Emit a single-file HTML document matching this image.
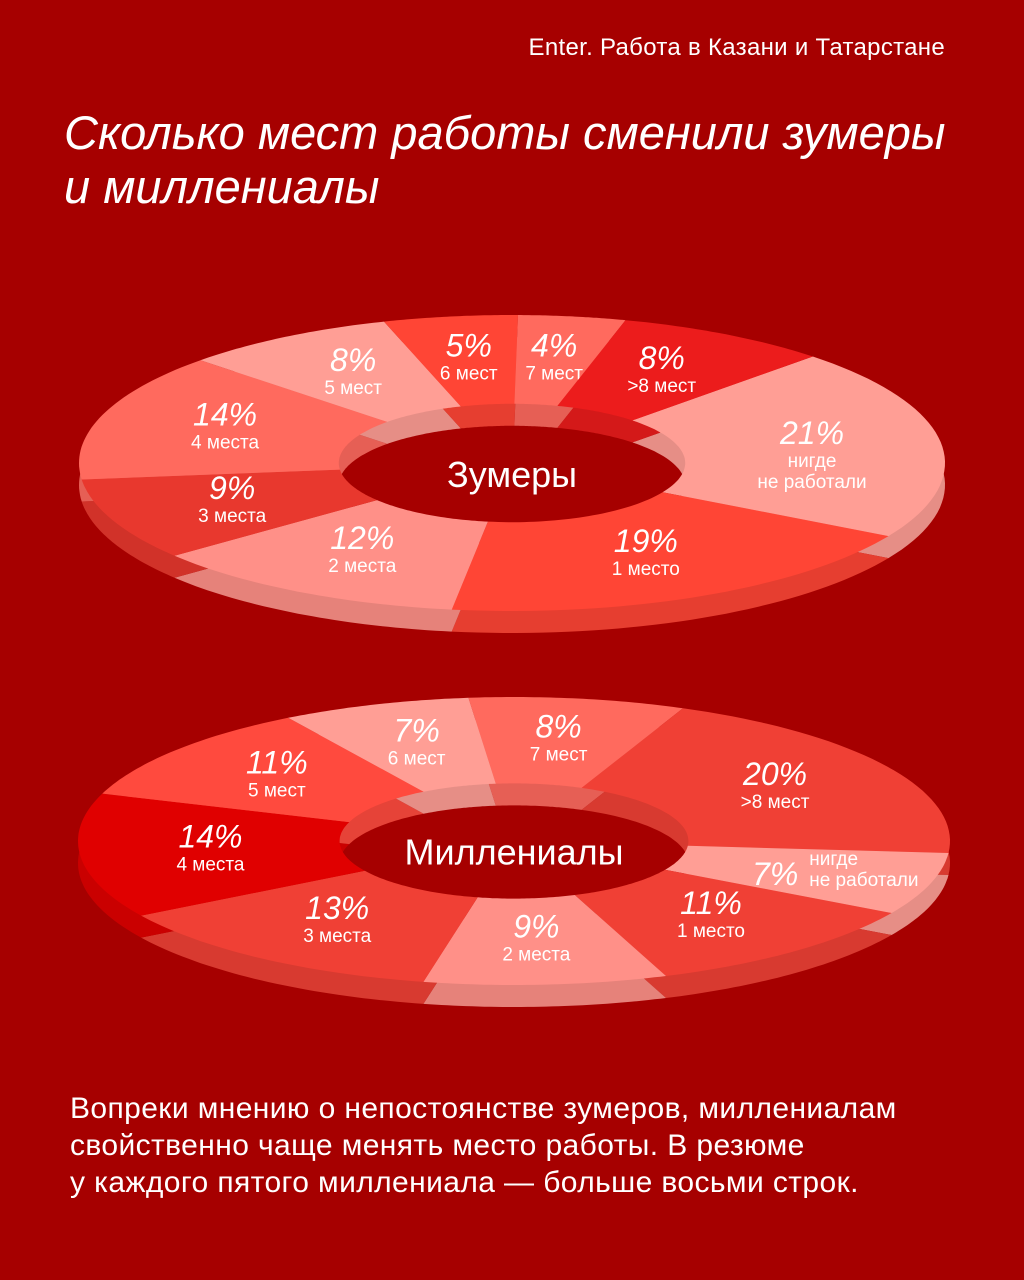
<!DOCTYPE html>
<html><head><meta charset="utf-8">
<style>
html,body{margin:0;padding:0;background:#a60000;}
#root{position:relative;width:1024px;height:1280px;background:#a60000;overflow:hidden;font-family:"Liberation Sans",sans-serif;color:#fff;}
.hdr{position:absolute;right:79px;top:34px;font-size:24px;letter-spacing:0.3px;}
.title{position:absolute;left:64px;top:106px;font-size:47px;font-style:italic;line-height:54px;}
.foot{position:absolute;left:70px;top:1090px;font-size:30px;line-height:37px;letter-spacing:0.4px;}
svg{position:absolute;left:0;top:0;}
</style></head><body>
<div id="root">
<div class="hdr">Enter. Работа в Казани и Татарстане</div>
<div class="title">Сколько мест работы сменили зумеры<br>и миллениалы</div>
<svg id="chart" width="1024" height="1280"></svg>
<div class="foot">Вопреки мнению о непостоянстве зумеров, миллениалам<br>свойственно чаще менять место работы. В резюме<br>у каждого пятого миллениала — больше восьми строк.</div>
</div>
<script>
const zCats=["нигде\nне работали","1 место","2 места","3 места","4 места","5 мест","6 мест","7 мест",">8 мест"];
const zVals=[21,19,12,9,14,8,5,4,8];
const zCols=["#ff9e95","#ff4535","#ff9088","#e8382e","#ff6a5e","#ff9e95","#ff4535","#ff6a5e","#ec1c1c"];
const mCats=["7 мест",">8 мест","нигде\nне работали","1 место","2 места","3 места","4 места","5 мест","6 мест"];
const mVals=[8,20,7,11,9,13,14,11,7];
const mCols=["#ff6a5e","#f04035","#ff9e95","#f04035","#ff9088","#f04035","#e00000","#ff4a3e","#ff9e95"];
const NS="http://www.w3.org/2000/svg";
const svg=document.getElementById('chart');
function shade(hex,f){const n=parseInt(hex.slice(1),16);const r=Math.round(((n>>16)&255)*f),g=Math.round(((n>>8)&255)*f),b=Math.round((n&255)*f);return `rgb(${r},${g},${b})`;}
function mk(tag,attrs){const e=document.createElementNS(NS,tag);for(const k in attrs)e.setAttribute(k,attrs[k]);return e;}
function donut(cats,vals,cols,g,name){
  const total=vals.reduce((a,b)=>a+b,0);
  const toAng=v=>v/total*2*Math.PI;
  const pt=(t,k,dy)=>[g.cx+g.rx*k*Math.cos(t),g.cy+dy+g.ry*k*Math.sin(t)];
  const wedge=(t1,t2,dy)=>{let p=[];const N=40;
    for(let i=0;i<=N;i++){p.push(pt(t1+(t2-t1)*i/N,1,dy));}
    for(let i=N;i>=0;i--){p.push(pt(t1+(t2-t1)*i/N,g.k,dy));}
    return 'M'+p.map(q=>q[0].toFixed(1)+','+q[1].toFixed(1)).join('L')+'Z';};
  let t=g.start*Math.PI/180;const spans=[];
  vals.forEach(v=>{spans.push([t,t+toAng(v)]);t+=toAng(v);});
  spans.forEach((s,i)=>{const p=mk('path',{d:wedge(s[0],s[1],g.th),fill:shade(cols[i],0.9)});
    
    
    svg.appendChild(p);});
  spans.forEach((s,i)=>{const p=mk('path',{d:wedge(s[0],s[1],0),fill:cols[i]});
    
    
    svg.appendChild(p);
    const m=(s[0]+s[1])/2;const c=pt(m,0.7,0);
    const lines=cats[i].split('\n');
    const side=g.sideLabel===i;
    const px=side?c[0]-30:c[0], py=side?c[1]+14:c[1]-4;
    const tx=mk('text',{x:px,y:py,'text-anchor':'middle',fill:'#fff','font-size':'32','font-style':'italic','font-family':'Liberation Sans, sans-serif'});
    tx.textContent=vals[i]+'%';
    
    
    svg.appendChild(tx);
    lines.forEach((ln,j)=>{
      const a=side?{x:px+34,y:c[1]-6+j*21,'text-anchor':'start'}:{x:c[0],y:c[1]+19+j*21,'text-anchor':'middle'};
      const s2=mk('text',Object.assign(a,{fill:'#fff','font-size':'19','font-family':'Liberation Sans, sans-serif'}));
      s2.textContent=ln;
      
      
      svg.appendChild(s2);});
  });
  const ct=mk('text',{x:g.cx,y:g.cy+g.ry*0.12+6,'text-anchor':'middle',fill:'#fff','font-size':'36','font-family':'Liberation Sans, sans-serif'});
  ct.textContent=g.title;
  
  
  svg.appendChild(ct);
}
donut(zCats,zVals,zCols,{cx:512,cy:463,rx:433,ry:148,k:0.4,th:22,start:-46,title:"Зумеры",sideLabel:-1},'zoomers');
donut(mCats,mVals,mCols,{cx:514,cy:841,rx:436,ry:144,k:0.4,th:22,start:-96,title:"Миллениалы",sideLabel:2},'millennials');
</script>
</body></html>
